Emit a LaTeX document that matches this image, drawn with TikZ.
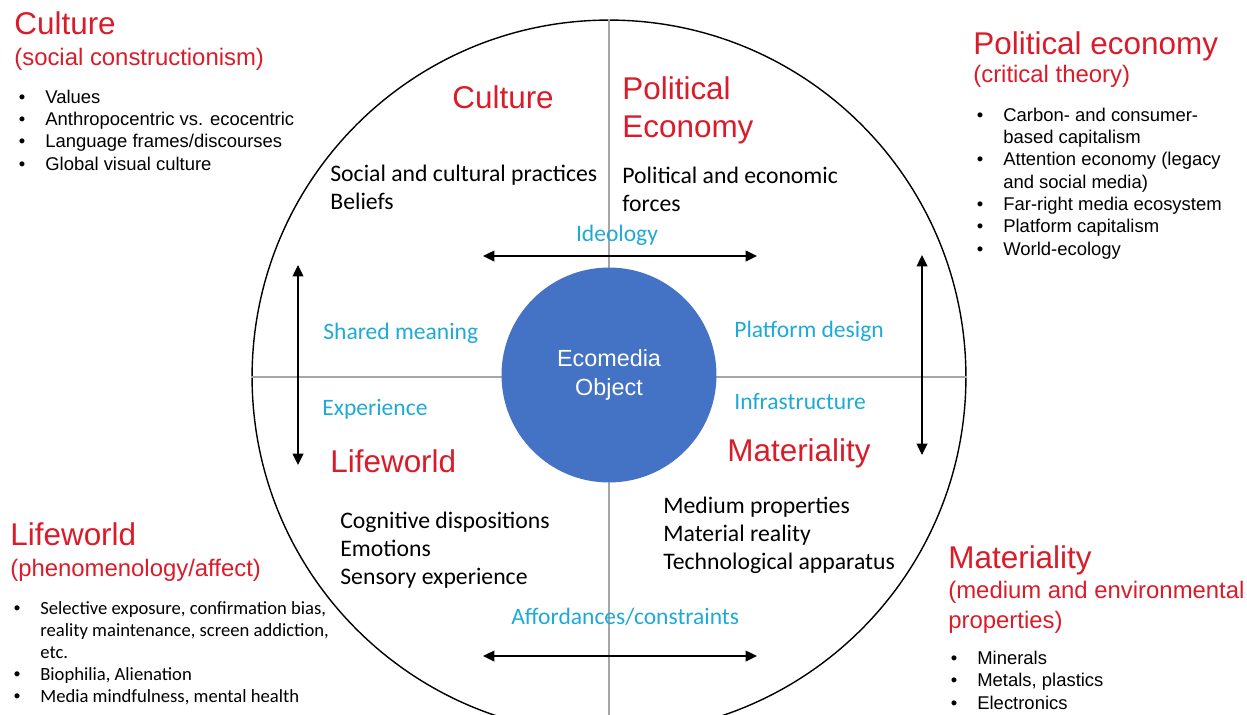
\documentclass[tikz,border=0pt]{standalone}
\usepackage{fontspec}
\setmainfont{Liberation Sans}
\newfontfamily\carlito{Carlito}
\usetikzlibrary{arrows.meta}
\definecolor{ecored}{RGB}{218,28,42}
\definecolor{ecocyan}{RGB}{30,170,215}
\definecolor{ecoblue}{RGB}{68,114,196}
\newcommand{\bull}{\llap{{\rmfamily\textbullet}\hspace{0.4cm}}}

\begin{document}
\begin{tikzpicture}[x=0.02cm, y=-0.02cm,
  head/.style={anchor=base west, inner sep=0, align=left, text=ecored,
    font=\fontsize{17.9}{21.6}\selectfont},
  sub/.style={anchor=base west, inner sep=0, align=left, text=ecored,
    font=\fontsize{13.6}{17}\selectfont},
  items/.style={anchor=base west, inner sep=0, align=left,
    font=\fontsize{10.5}{12.7}\selectfont},
  citems/.style={items, font=\carlito\fontsize{10.6}{12.5}\selectfont},
  body/.style={anchor=base west, inner sep=0, align=left,
    font=\carlito\fontsize{13.5}{15.9}\selectfont},
  link/.style={anchor=base west, inner sep=0, text=ecocyan,
    font=\carlito\fontsize{13.4}{16}\selectfont},
  axis/.style={draw=black!35, line width=0.6pt},
  arr/.style={>={Triangle[length=6.5pt,width=6pt]}, <->, line width=1.2pt}]
\useasboundingbox (0,0) rectangle (1247,714);
\clip (0,0) rectangle (1247,714);
% ring, quadrant axes and the object in the middle
\node[draw, circle, minimum size=14.28cm, inner sep=0, line width=0.8pt] (ring) at (609,377) {};
\draw[axis] (ring.north) -- (ring.south);
\draw[axis] (ring.west) -- (ring.east);
\node[circle, fill=ecoblue, minimum size=4.3cm, inner sep=0, text=white, align=center,
  font=\fontsize{13.3}{16.5}\selectfont] (eco) at (609,375) {Ecomedia\\Object};
% quadrant titles and contents (multi-line nodes sit on their last line)
\node[head] (cuIn) at (452,108) {Culture};
\node[head] (peIn) at (622,137) {Political\\Economy};
\node[body] (cuTxt) at (330,209) {Social and cultural practices\\Beliefs};
\node[body] (peTxt) at (622,211) {Political and economic\\forces};
\node[head] (lwIn) at (330,472) {Lifeworld};
\node[head] (maIn) at (727,461) {Materiality};
\node[body] (lwTxt) at (340,584) {Cognitive dispositions\\Emotions\\Sensory experience};
\node[body] (maTxt) at (663,569) {Medium properties\\Material reality\\Technological apparatus};
% links between quadrants
\node[link, anchor=base] (ideo) at (617,241) {Ideology};
\node[link] (share) at (323,339) {Shared meaning};
\node[link] (plat) at (734,337) {Platform design};
\node[link] (exper) at (322,415) {Experience};
\node[link] (infra) at (734,409) {Infrastructure};
\node[link] (afford) at (511,624) {Affordances/constraints};
\coordinate (topL) at (483,256);
\coordinate (topR) at (757,256);
\coordinate (botL) at (483,656);
\coordinate (botR) at (757,656);
\coordinate (leftT) at (298,265);
\coordinate (leftB) at (298,465);
\coordinate (rightT) at (922,255);
\coordinate (rightB) at (922,455);
\draw[arr] (topL) -- (topR);
\draw[arr] (botL) -- (botR);
\draw[arr] (leftT) -- (leftB);
\draw[arr] (rightT) -- (rightB);
% corner notes
\node[head] (cuOut) at (14,34) {Culture};
\node[sub] (cuSub) at (14,65) {(social constructionism)};
\node[items] (cuList) at (45,170) {\bull Values\\\bull Anthropocentric vs. ecocentric\\
  \bull Language frames/discourses\\\bull Global visual culture};
\node[head] (peOut) at (973,54) {Political economy};
\node[sub] (peSub) at (973,82) {(critical theory)};
\node[items] (peList) at (1003,255) {\bull Carbon- and consumer-\\based capitalism\\
  \bull Attention economy (legacy\\and social media)\\\bull Far-right media ecosystem\\
  \bull Platform capitalism\\\bull World-ecology};
\node[head] (lwOut) at (10,545) {Lifeworld};
\node[sub] (lwSub) at (10,576) {(phenomenology/affect)};
\node[citems] (lwList) at (40,702) {\bull Selective exposure, confirmation bias,\\
  reality maintenance, screen addiction,\\etc.\\\bull Biophilia, Alienation\\
  \bull Media mindfulness, mental health};
\node[head] (maOut) at (948,568) {Materiality};
\node[sub] (maSub) at (948,628) {(medium and environmental\\properties)};
\node[items] (maList) at (977,709) {\bull Minerals\\\bull Metals, plastics\\\bull Electronics};
\end{tikzpicture}
\end{document}
